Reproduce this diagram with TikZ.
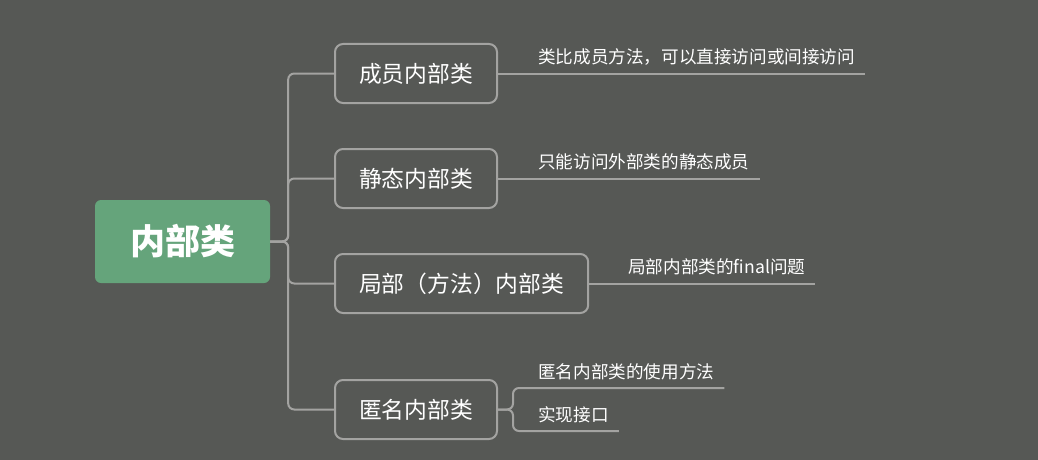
\documentclass[tikz,border=0pt]{standalone}
\usepackage{fontspec}
\usepackage{tikz}
\usetikzlibrary{calc,positioning}
\setmainfont{Noto Sans CJK SC}
\definecolor{mapBg}{RGB}{86,88,85}
\definecolor{mapGreen}{RGB}{101,164,123}
\definecolor{mapLine}{RGB}{163,163,161}

\begin{document}
\begin{tikzpicture}[x=1pt,y=-1pt,
    rootbox/.style={fill=mapGreen, rounded corners=6pt, minimum width=175pt,
        minimum height=83pt, text=white, font=\fontsize{35}{40}\selectfont\bfseries},
    topicbox/.style={draw=mapLine, line width=2pt, rounded corners=8pt, anchor=west,
        inner xsep=24pt, minimum height=59pt, text=white, font=\fontsize{22.8}{26}\selectfont},
    leaftext/.style={anchor=south west, inner xsep=10pt, inner ysep=8pt, text=white,
        font=\fontsize{17.6}{20}\selectfont},
    link/.style={draw=mapLine, line width=2pt, rounded corners=6pt}]

    % background
    \fill[mapBg] (0,0) rectangle (1038,460);
    \useasboundingbox (0,0) rectangle (1038,460);

    % root
    \node[rootbox] (root) at (182.5,241.5) {内部类};

    % topics
    \node[topicbox] (member) at (334,73.5) {成员内部类};
    \node[topicbox] (static) at (334,178.5) {静态内部类};
    \node[topicbox] (local) at (334,283.5) {局部（方法）内部类};
    \node[topicbox] (anon) at (334,409.5) {匿名内部类};

    % leaves
    \node[leaftext] (memberNote) at (528,73.5) {类比成员方法，可以直接访问或间接访问};
    \node[leaftext] (staticNote) at (528,178.5) {只能访问外部类的静态成员};
    \node[leaftext] (localNote) at (618,283.5) {局部内部类的final问题};
    \node[leaftext] (anonUse) at (528,388) {匿名内部类的使用方法};
    \node[leaftext] (anonImpl) at (528,431) {实现接口};

    % root to topics
    \foreach \t in {member,static,local,anon}
        \draw[link] (root.east) -- ++(18,0) |- (\t.west);

    % topics to leaves
    \draw[link] (member.east) -- (memberNote.south west) -- (memberNote.south east);
    \draw[link] (static.east) -- (staticNote.south west) -- (staticNote.south east);
    \draw[link] (local.east) -- (localNote.south west) -- (localNote.south east);
    \draw[link] (anon.east) -- ++(15,0) |- (anonUse.south west) -- (anonUse.south east);
    \draw[link] (anon.east) -- ++(15,0) |- (anonImpl.south west) -- (anonImpl.south east);
\end{tikzpicture}
\end{document}
